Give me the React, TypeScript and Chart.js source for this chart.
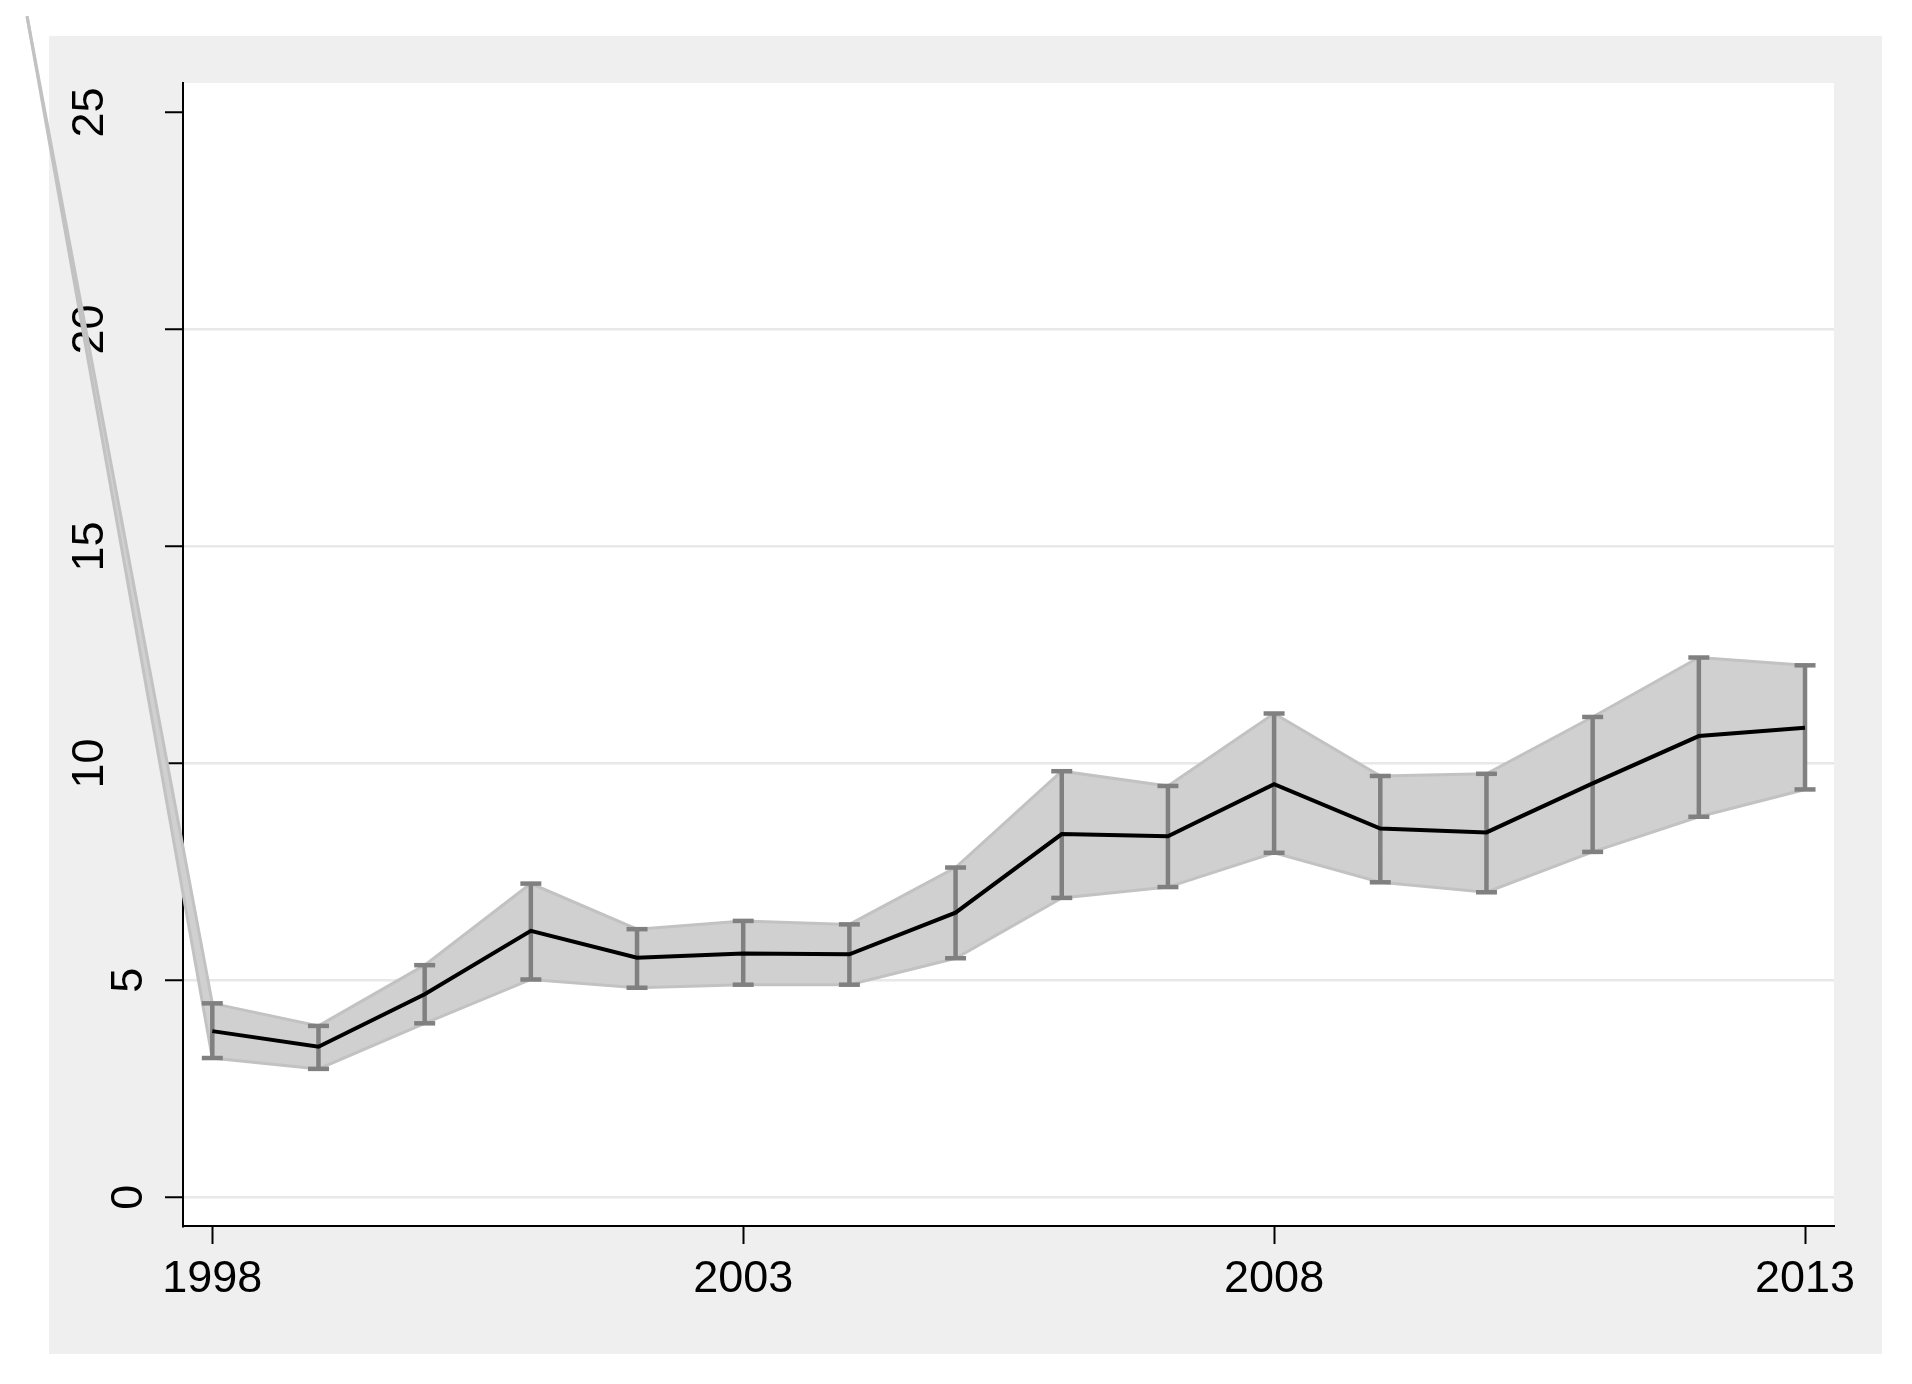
import React, { useEffect, useRef } from 'react';
import { Chart, registerables } from 'chart.js';

Chart.register(...registerables);

// ---- data ----
const years = [1998, 1999, 2000, 2001, 2002, 2003, 2004, 2005, 2006, 2007, 2008, 2009, 2010, 2011, 2012, 2013];
const meanValues = [3.83, 3.47, 4.68, 6.14, 5.52, 5.62, 5.60, 6.56, 8.37, 8.32, 9.52, 8.50, 8.41, 9.54, 10.63, 10.82];
const upperValues = [4.47, 3.95, 5.35, 7.23, 6.18, 6.37, 6.29, 7.60, 9.82, 9.48, 11.15, 9.71, 9.76, 11.07, 12.44, 12.26];
const lowerValues = [3.21, 2.96, 4.01, 5.02, 4.83, 4.90, 4.90, 5.51, 6.90, 7.15, 7.94, 7.26, 7.03, 7.96, 8.77, 9.40];
// stray vertex of the shaded band (drawn off to the top-left in the original)
const bandApexYear = 1996.255;
const bandApexValue = 27.22;
const xTickValues = [1998, 2003, 2008, 2013];
const yTickValues = [0, 5, 10, 15, 20, 25];

// ---- styles ----
const FONT = '"Liberation Sans", Arial, Helvetica, sans-serif';
const BAND_FILL = '#d0d0d0';
const BAND_EDGE = '#c2c2c2';
const BAR_COLOR = '#808080';

const backgroundPlugin = {
  id: 'stataBackground',
  beforeDraw(chart: any) {
    const { ctx, chartArea, width, height } = chart;
    ctx.save();
    ctx.fillStyle = '#ffffff';
    ctx.fillRect(0, 0, width, height);
    ctx.fillStyle = '#efefef';
    ctx.fillRect(49, 36, 1833, 1318);
    ctx.fillStyle = '#ffffff';
    ctx.fillRect(chartArea.left, chartArea.top, chartArea.right - chartArea.left, chartArea.bottom - chartArea.top);
    ctx.restore();
  },
};

const apexWedgePlugin = {
  id: 'apexWedge',
  beforeDatasetsDraw(chart: any) {
    const { ctx } = chart;
    const xs = chart.scales.x;
    const ys = chart.scales.y;
    ctx.save();
    ctx.beginPath();
    ctx.moveTo(xs.getPixelForValue(bandApexYear), ys.getPixelForValue(bandApexValue));
    ctx.lineTo(xs.getPixelForValue(years[0]), ys.getPixelForValue(upperValues[0]));
    ctx.lineTo(xs.getPixelForValue(years[0]), ys.getPixelForValue(lowerValues[0]));
    ctx.closePath();
    ctx.fillStyle = BAND_FILL;
    ctx.fill();
    ctx.restore();
  },
};

export default function App() {
  const canvasRef = useRef<HTMLCanvasElement | null>(null);

  useEffect(() => {
    const canvas = canvasRef.current;
    if (!canvas) return;

    const meanData = years.map((yr, i) => ({ x: yr, y: meanValues[i] }));
    const upperData = [{ x: bandApexYear, y: bandApexValue }, ...years.map((yr, i) => ({ x: yr, y: upperValues[i] }))];
    const lowerData = [{ x: bandApexYear, y: bandApexValue }, ...years.map((yr, i) => ({ x: yr, y: lowerValues[i] }))];
    const barData: any[] = [];
    years.forEach((yr, i) => {
      barData.push({ x: yr, y: lowerValues[i] });
      barData.push({ x: yr, y: upperValues[i] });
      barData.push({ x: yr, y: null });
    });

    const chart = new Chart(canvas, {
      type: 'line',
      data: {
        datasets: [
          {
            label: 'mean',
            data: meanData,
            borderColor: '#000000',
            borderWidth: 4,
            pointRadius: 0,
            tension: 0,
            fill: false,
          },
          {
            label: 'ci',
            data: barData,
            borderColor: BAR_COLOR,
            borderWidth: 4.5,
            borderCapStyle: 'butt',
            pointStyle: 'line',
            pointRadius: 10.5,
            pointBorderWidth: 4.5,
            pointBorderColor: BAR_COLOR,
            pointBackgroundColor: BAR_COLOR,
            spanGaps: false,
            tension: 0,
            fill: false,
          },
          {
            label: 'upper',
            data: upperData,
            borderColor: BAND_EDGE,
            borderWidth: 3,
            pointRadius: 0,
            tension: 0,
            backgroundColor: BAND_FILL,
            fill: '+1',
            clip: false,
          },
          {
            label: 'lower',
            data: lowerData,
            borderColor: BAND_EDGE,
            borderWidth: 3,
            pointRadius: 0,
            tension: 0,
            fill: false,
            clip: false,
          },
        ],
      },
      options: {
        responsive: false,
        animation: false,
        devicePixelRatio: 1,
        layout: { padding: { left: 49, right: 78, top: 83, bottom: 30 } },
        plugins: {
          legend: { display: false },
          tooltip: { enabled: false },
          filler: { drawTime: 'beforeDatasetsDraw' },
        },
        scales: {
          x: {
            type: 'linear',
            min: 1997.724,
            max: 2013.273,
            afterBuildTicks: (scale: any) => {
              scale.ticks = xTickValues.map((v) => ({ value: v }));
            },
            afterFit: (scale: any) => {
              scale.height = 128;
              scale.paddingLeft = 0;
              scale.paddingRight = 0;
            },
            grid: {
              drawOnChartArea: false,
              drawTicks: true,
              tickLength: 18,
              tickWidth: 2,
              tickColor: '#000000',
            },
            border: { display: true, color: '#000000', width: 2 },
            ticks: {
              autoSkip: false,
              maxRotation: 0,
              minRotation: 0,
              padding: 9,
              color: '#000000',
              font: { family: FONT, size: 45 },
              callback: (v: any) => String(v),
            },
          },
          y: {
            type: 'linear',
            min: -0.661,
            max: 25.68,
            afterBuildTicks: (scale: any) => {
              scale.ticks = yTickValues.map((v) => ({ value: v }));
            },
            afterFit: (scale: any) => {
              scale.width = 134;
              scale.paddingTop = 0;
              scale.paddingBottom = 0;
            },
            grid: {
              color: (ctx: any) => (ctx.tick && ctx.tick.value === 25 ? 'rgba(0,0,0,0)' : '#e8e8e8'),
              lineWidth: 2.5,
              drawTicks: true,
              tickLength: 18,
              tickWidth: 2,
              tickColor: '#000000',
            },
            border: { display: true, color: '#000000', width: 2 },
            ticks: {
              minRotation: 90,
              maxRotation: 90,
              crossAlign: 'center',
              padding: 49.5,
              color: '#000000',
              font: { family: FONT, size: 45, lineHeight: 79 / 45 },
              callback: (v: any) => {
                const s = String(v);
                return s.length === 1 ? ['', s] : s;
              },
            },
          },
        },
      },
      plugins: [backgroundPlugin, apexWedgePlugin],
    } as any);

    return () => {
      chart.destroy();
    };
  }, []);

  return (
    <div style={{ position: 'absolute', left: 0, top: 0, width: 1912, height: 1384 }}>
      <canvas ref={canvasRef} width={1912} height={1384} style={{ display: 'block', width: 1912, height: 1384 }} />
    </div>
  );
}
